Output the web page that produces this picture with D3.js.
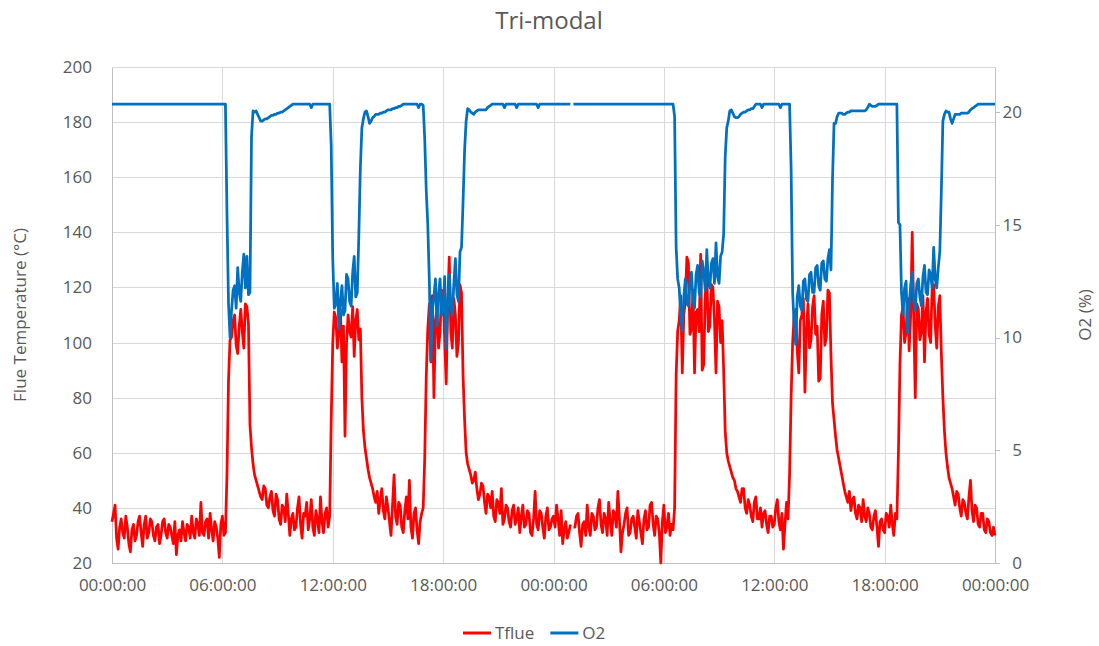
<html>
<head>
  <title>Tri-modal</title>
  <script src="https://d3js.org/d3.v7.min.js"></script>
  <meta charset="utf-8">
</head>

<style>
  body {
    margin: 0;
    background: #fff;
  }

  .grid line {
    stroke: #d9d9d9;
    shape-rendering: crispEdges;
  }

  .grid path {
    display: none;
  }

  .axis text {
    fill: #595959;
    font: 17px 'Open Sans';
  }

  .axis path,
  .axis line {
    fill: none;
    stroke: #bfbfbf;
    shape-rendering: crispEdges;
  }
</style>

<body>
  <div class="chart"></div>

  <script>
    // one sample every 5 minutes, hour 0 .. 48 (one row = one hour)
    var stepHours = 1 / 12;

    var xTickHours = [0, 6, 12, 18, 24, 30, 36, 42, 48];
    var xTickLabels = ["00:00:00", "06:00:00", "12:00:00", "18:00:00", "00:00:00",
                       "06:00:00", "12:00:00", "18:00:00", "00:00:00"];
    var tempTicks = [20, 40, 60, 80, 100, 120, 140, 160, 180, 200];
    var o2Ticks = [0, 5, 10, 15, 20];

    var tflueDay1 = [
      35, 38, 41, 29, 25, 33, 36, 31, 29, 37, 33, 27,
      24, 32, 34, 28, 30, 35, 37, 31, 26, 34, 37, 29,
      31, 36, 35, 30, 28, 33, 34, 27, 30, 35, 36, 31,
      29, 34, 33, 30, 27, 35, 23, 30, 32, 28, 35, 31,
      28, 34, 33, 29, 37, 31, 29, 36, 34, 30, 42, 31,
      30, 35, 36, 29, 38, 32, 28, 35, 33, 29, 22, 34,
      37, 30, 31, 52, 86, 101, 102, 108, 110, 99, 96, 106,
      112, 104, 98, 114, 113, 107, 70, 62, 56, 52, 50, 48,
      46, 44, 43, 48, 47, 41, 40, 44, 46, 39, 37, 45,
      43, 36, 34, 41, 40, 35, 45, 38, 30, 36, 38, 32,
      33, 40, 44, 34, 29, 38, 37, 42, 32, 36, 43, 33,
      30, 39, 36, 31, 44, 35, 31, 38, 40, 33, 37, 72,
      100, 111, 109, 98, 104, 112, 93, 106, 66, 100, 110, 104,
      102, 113, 95, 108, 112, 101, 105, 80, 68, 62, 58, 54,
      51, 49, 47, 44, 42, 46, 38, 43, 47, 39, 36, 44,
      40, 35, 30, 41, 52, 37, 34, 42, 41, 33, 31, 39,
      44, 36, 50, 33, 29, 38, 40, 32, 27, 35, 38, 40,
      58, 88, 105, 114, 93, 117, 80, 108, 112, 98, 104, 119,
      118, 101, 85, 114, 131, 104, 98, 116, 110, 95, 100, 121,
      118, 88, 72, 60, 56, 54, 52, 49, 50, 53, 47, 43,
      45, 49, 48, 42, 38, 45, 44, 40, 46, 37, 35, 43,
      42, 38, 47, 34, 36, 41, 40, 35, 33, 39, 41, 34,
      36, 40, 31, 37, 41, 33, 34, 39, 38, 31, 30, 36,
      46, 34, 32, 39, 38, 33, 29, 37, 40, 32, 33, 36
    ];

    var tflueDay2 = [
      37, 33, 41, 36, 30, 39, 27, 32, 35, 29, 31, 34,
      null, 33, 33, 37, 38, 31, 26, 34, 35, 30, 41, 33,
      30, 38, 37, 32, 33, 40, 43, 34, 31, 38, 36, 30,
      42, 35, 30, 39, 38, 33, 46, 36, 24, 31, 34, 38,
      40, 30, 31, 36, 37, 33, 29, 39, 35, 31, 27, 36,
      39, 32, 33, 41, 42, 34, 30, 37, 36, 31, 20, 35,
      41, 31, 33, 38, 30, 34, 32, 40, 88, 104, 108, 117,
      89, 110, 115, 131, 129, 103, 105, 119, 89, 111, 112, 104,
      132, 90, 92, 117, 125, 104, 106, 121, 120, 108, 89, 115,
      113, 100, 108, 90, 68, 60, 57, 55, 53, 51, 50, 47,
      46, 44, 42, 47, 47, 40, 38, 43, 41, 37, 35, 42,
      44, 36, 36, 40, 33, 38, 39, 34, 31, 37, 37, 33,
      34, 40, 43, 35, 32, 38, 25, 34, 42, 36, 52, 80,
      100, 110, 112, 97, 89, 108, 110, 116, 82, 104, 114, 98,
      101, 113, 117, 103, 106, 86, 87, 110, 115, 99, 102, 119,
      118, 95, 78, 72, 66, 61, 58, 55, 52, 49, 46, 44,
      42, 46, 39, 43, 44, 38, 36, 41, 40, 35, 43, 37,
      35, 40, 38, 33, 32, 37, 39, 33, 26, 35, 36, 32,
      31, 38, 37, 33, 41, 34, 30, 38, 36, 60, 92, 110,
      113, 100, 104, 116, 97, 110, 140, 108, 80, 114, 112, 101,
      104, 117, 93, 111, 116, 103, 100, 120, 121, 106, 98, 113,
      117, 96, 80, 68, 60, 55, 51, 49, 47, 44, 41, 46,
      45, 40, 37, 43, 42, 38, 36, 44, 50, 39, 35, 41,
      40, 34, 33, 38, 38, 32, 31, 36, 35, 31, 30, 33,
      30
    ];

    var o2Day1 = [
      20.35, 20.35, 20.35, 20.35, 20.35, 20.35, 20.35, 20.35, 20.35, 20.35, 20.35, 20.35,
      20.35, 20.35, 20.35, 20.35, 20.35, 20.35, 20.35, 20.35, 20.35, 20.35, 20.35, 20.35,
      20.35, 20.35, 20.35, 20.35, 20.35, 20.35, 20.35, 20.35, 20.35, 20.35, 20.35, 20.35,
      20.35, 20.35, 20.35, 20.35, 20.35, 20.35, 20.35, 20.35, 20.35, 20.35, 20.35, 20.35,
      20.35, 20.35, 20.35, 20.35, 20.35, 20.35, 20.35, 20.35, 20.35, 20.35, 20.35, 20.35,
      20.35, 20.35, 20.35, 20.35, 20.35, 20.35, 20.35, 20.35, 20.35, 20.35, 20.35, 20.35,
      20.35, 20.35, 20.35, 15.5, 11.5, 10.0, 11.2, 12.1, 12.3, 11.3, 13.1, 12.0,
      11.6, 12.9, 13.7, 12.2, 13.6, 11.9, 12.0, 18.9, 20.05, 20.0, 20.05, 19.9,
      19.75, 19.6, 19.6, 19.65, 19.7, 19.7, 19.75, 19.8, 19.85, 19.85, 19.9, 19.9,
      19.95, 19.95, 20.0, 20.0, 20.05, 20.1, 20.15, 20.2, 20.25, 20.3, 20.35, 20.35,
      20.35, 20.35, 20.35, 20.35, 20.35, 20.35, 20.35, 20.35, 20.35, 20.35, 20.2, 20.35,
      20.35, 20.35, 20.35, 20.35, 20.35, 20.35, 20.35, 20.35, 20.35, 20.35, 20.35, 18.5,
      13.5, 11.3, 11.5, 12.4, 10.4, 11.6, 12.3, 11.0, 11.2, 12.8, 12.6, 11.6,
      11.4, 12.9, 13.6, 11.8, 12.0, 14.5, 17.5, 19.3, 19.7, 20.0, 20.05, 19.8,
      19.5, 19.6, 19.75, 19.8, 19.9, 19.9, 19.9, 19.95, 19.95, 20.0, 20.0, 20.05,
      20.1, 20.1, 20.1, 20.15, 20.15, 20.2, 20.2, 20.25, 20.25, 20.3, 20.35, 20.35,
      20.35, 20.35, 20.35, 20.35, 20.35, 20.35, 20.35, 20.35, 20.2, 20.35, 20.35, 20.3,
      18.8, 16.5, 15.0, 12.5, 9.0, 11.2, 11.8, 12.6, 10.5, 11.9, 12.6, 11.0,
      11.2, 12.7, 9.5, 11.5, 12.8, 11.3, 11.0, 12.4, 13.5, 11.9, 11.6, 13.8,
      14.0, 16.0, 18.3, 19.6, 20.15, 20.1, 20.0, 19.95, 19.9, 20.0, 20.05, 20.1,
      20.1, 20.1, 20.1, 20.1, 20.1, 20.2, 20.25, 20.3, 20.35, 20.35, 20.35, 20.35,
      20.35, 20.35, 20.35, 20.35, 20.2, 20.35, 20.35, 20.35, 20.35, 20.35, 20.35, 20.35,
      20.2, 20.35, 20.35, 20.35, 20.35, 20.35, 20.35, 20.35, 20.35, 20.35, 20.35, 20.35,
      20.35, 20.35, 20.2, 20.35, 20.35, 20.35, 20.35, 20.35, 20.35, 20.35, 20.35, 20.35
    ];

    var o2Day2 = [
      20.35, 20.35, 20.35, 20.35, 20.35, 20.35, 20.35, 20.35, 20.35, 20.35, 20.35, 20.35,
      null, 20.35, 20.35, 20.35, 20.35, 20.35, 20.35, 20.35, 20.35, 20.35, 20.35, 20.35,
      20.35, 20.35, 20.35, 20.35, 20.35, 20.35, 20.35, 20.35, 20.35, 20.35, 20.35, 20.35,
      20.35, 20.35, 20.35, 20.35, 20.35, 20.35, 20.35, 20.35, 20.35, 20.35, 20.35, 20.35,
      20.35, 20.35, 20.35, 20.35, 20.35, 20.35, 20.35, 20.35, 20.35, 20.35, 20.35, 20.35,
      20.35, 20.35, 20.35, 20.35, 20.35, 20.35, 20.35, 20.35, 20.35, 20.35, 20.35, 20.35,
      20.35, 20.35, 20.35, 20.35, 20.35, 20.35, 20.35, 19.8, 14.0, 12.6, 12.2, 11.0,
      10.3, 11.8, 12.6, 11.5, 11.4, 12.4, 12.9, 11.6, 11.3, 12.8, 13.2, 12.0,
      11.8, 13.4, 12.9, 12.1, 13.9, 12.5, 12.2, 13.3, 13.5, 12.4, 14.2, 12.7,
      12.4, 13.6, 13.8, 14.6, 18.0, 19.3, 19.6, 20.05, 20.1, 19.95, 19.8, 19.75,
      19.75, 19.8, 19.9, 19.95, 20.0, 20.0, 20.05, 20.1, 20.1, 20.15, 20.15, 20.25,
      20.35, 20.35, 20.35, 20.35, 20.2, 20.35, 20.35, 20.35, 20.35, 20.35, 20.35, 20.35,
      20.35, 20.35, 20.35, 20.35, 20.2, 20.35, 20.35, 20.35, 20.35, 20.35, 20.35, 17.5,
      12.0, 10.5, 9.7, 11.8, 12.3, 11.4, 11.2, 12.5, 12.6, 11.7, 11.6, 12.8,
      12.9, 12.0, 12.0, 13.1, 13.2, 12.3, 12.1, 13.3, 13.4, 12.6, 12.5, 13.5,
      13.9, 13.0, 17.0, 19.5, 19.5, 19.8, 19.95, 19.95, 19.95, 19.9, 19.9, 19.95,
      20.0, 20.0, 20.05, 20.05, 20.05, 20.05, 20.05, 20.05, 20.05, 20.05, 20.05, 20.05,
      20.1, 20.2, 20.35, 20.3, 20.25, 20.25, 20.25, 20.3, 20.35, 20.35, 20.35, 20.35,
      20.35, 20.35, 20.35, 20.35, 20.35, 20.35, 20.35, 20.35, 20.35, 15.1, 15.0, 12.0,
      11.0, 12.2, 12.5, 10.2, 11.5, 12.3, 12.9, 11.6, 11.2, 12.4, 12.6, 11.8,
      11.4, 12.7, 13.2, 12.0, 11.9, 13.0, 12.8, 12.2, 14.0, 12.6, 12.2, 13.1,
      13.8, 16.5, 19.6, 19.9, 20.05, 20.0, 20.0, 19.7, 19.5, 19.7, 19.9, 19.9,
      19.9, 19.9, 19.95, 19.95, 19.95, 19.95, 19.95, 20.0, 20.1, 20.15, 20.2, 20.25,
      20.3, 20.35, 20.35, 20.35, 20.35, 20.35, 20.35, 20.35, 20.35, 20.35, 20.35, 20.35,
      20.35
    ];

    var tflue = tflueDay1.concat(tflueDay2).map(function(v, i) { return {h: i * stepHours, v: v}; });
    var o2 = o2Day1.concat(o2Day2).map(function(v, i) { return {h: i * stepHours, v: v}; });

    var margin = {top: 67, right: 104, bottom: 83, left: 112};
    var width = 1099 - margin.left - margin.right;
    var height = 646 - margin.top - margin.bottom;

    var svg = d3.select('.chart')
      .append('svg')
        .attr('width', 1099)
        .attr('height', 646);

    var x = d3.scaleLinear().domain([0, 48]).range([0, width]);
    var yTemp = d3.scaleLinear().domain([20, 200]).range([height, 0]);
    var yO2 = d3.scaleLinear().domain([0, 22]).range([height, 0]);

    var g = svg.append("g")
      .attr("transform", "translate(" + margin.left + "," + margin.top + ")");

    // gridlines
    g.append("g")
        .attr("class", "grid")
        .call(d3.axisLeft(yTemp).tickValues(tempTicks).tickSize(-width).tickFormat(""));

    g.append("g")
        .attr("class", "grid")
        .attr("transform", "translate(0," + height + ")")
        .call(d3.axisBottom(x).tickValues(xTickHours).tickSize(-height).tickFormat(""));

    // axes
    g.append("g")
        .attr("class", "axis")
        .attr("transform", "translate(0," + height + ")")
        .call(d3.axisBottom(x).tickValues(xTickHours).tickSize(0).tickPadding(16)
          .tickFormat(function(d, i) { return xTickLabels[i]; }));

    g.append("g")
        .attr("class", "axis")
        .call(d3.axisLeft(yTemp).tickValues(tempTicks).tickSize(0).tickPadding(20));

    var right = g.append("g")
        .attr("class", "axis")
        .attr("transform", "translate(" + width + ",0)")
        .call(d3.axisRight(yO2).tickValues(o2Ticks).tickSize(5).tickSizeOuter(0).tickPadding(8));
    right.selectAll("text")
        .attr("text-anchor", "end")
        .attr("x", 27);

    // series
    var lineTemp = d3.line()
      .defined(function(d) { return d.v != null; })
      .x(function(d) { return x(d.h); })
      .y(function(d) { return yTemp(d.v); });

    var lineO2 = d3.line()
      .defined(function(d) { return d.v != null; })
      .x(function(d) { return x(d.h); })
      .y(function(d) { return yO2(d.v); });

    g.append("path")
        .datum(tflue)
        .attr("fill", "none")
        .attr("stroke", "#ff0000")
        .attr("stroke-width", 2.75)
        .attr("stroke-linejoin", "round")
        .attr("d", lineTemp);

    g.append("path")
        .datum(o2)
        .attr("fill", "none")
        .attr("stroke", "#0070c0")
        .attr("stroke-width", 2.75)
        .attr("stroke-linejoin", "round")
        .attr("d", lineO2);

    // title
    svg.append("text")
        .attr("x", 549)
        .attr("y", 29)
        .attr("text-anchor", "middle")
        .style("font", "24px 'Open Sans'")
        .style("fill", "#595959")
        .text("Tri-modal");

    // axis titles
    svg.append("text")
        .attr("transform", "translate(26," + (margin.top + height / 2) + ") rotate(-90)")
        .attr("text-anchor", "middle")
        .style("font", "17px 'Open Sans'")
        .style("fill", "#595959")
        .text("Flue Temperature (°C)");

    svg.append("text")
        .attr("transform", "translate(1091," + (margin.top + height / 2) + ") rotate(-90)")
        .attr("text-anchor", "middle")
        .style("font", "17px 'Open Sans'")
        .style("fill", "#595959")
        .text("O2 (%)");

    // legend
    var legendItems = [{name: "Tflue", color: "#ff0000"}, {name: "O2", color: "#0070c0"}];
    var legend = svg.append("g").attr("transform", "translate(463,633)");
    var lx = 0;
    legendItems.forEach(function(item) {
      legend.append("line")
          .attr("x1", lx).attr("x2", lx + 28)
          .attr("y1", 0).attr("y2", 0)
          .attr("stroke", item.color)
          .attr("stroke-width", 3);
      var t = legend.append("text")
          .attr("x", lx + 32)
          .attr("y", 6)
          .style("font", "17px 'Open Sans'")
          .style("fill", "#595959")
          .text(item.name);
      lx += 32 + t.node().getComputedTextLength() + 16;
    });
  </script>

</body>
</html>
